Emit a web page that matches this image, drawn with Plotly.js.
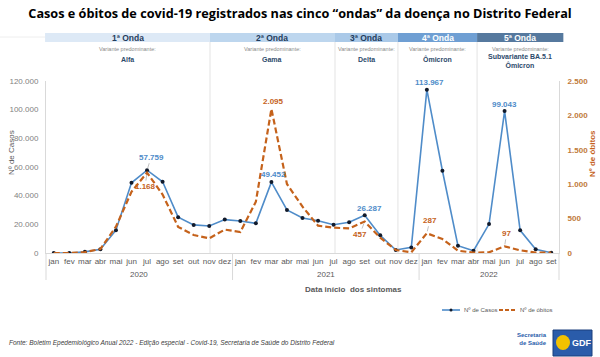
<!DOCTYPE html>
<html>
<head>
<meta charset="utf-8">
<script src="https://cdn.plot.ly/plotly-3.0.1.min.js"></script>
<style>html,body{margin:0;padding:0;background:#fff;}#chart{width:600px;height:357px;}</style>
</head>
<body>
<div id="chart"></div>
<script>
// ---- data ----
const months = ["jan","fev","mar","abr","mai","jun","jul","ago","set","out","nov","dez",
                "jan","fev","mar","abr","mai","jun","jul","ago","set","out","nov","dez",
                "jan","fev","mar","abr","mai","jun","jul","ago","set"];
const years = ["2020","2021","2022"];
const yearStart = [0, 12, 24];
const yearEnd = [11, 23, 32];
const cases = [0, 0, 800, 2600, 15900, 49000, 57759, 49700, 25000, 19600, 18800, 23300,
               22300, 20700, 49452, 30000, 24400, 22500, 19700, 21400, 26287, 12300, 2100, 3900,
               113967, 57400, 5100, 1600, 20200, 99043, 15800, 2600, 200];
const deaths = [0, 0, 12, 58, 382, 890, 1168, 850, 380, 262, 213, 340,
                305, 746, 2095, 1003, 673, 397, 368, 357, 457, 222, 44, 10,
                287, 203, 34, 5, 10, 97, 39, 7, 5];
const seriesNames = ["Nº de Casos", "Nº de óbitos"];
const waveNames = ["1ª Onda","2ª Onda","3ª Onda","4ª Onda","5ª Onda"];
const waveVariants = ["Alfa","Gama","Delta","Ômicron","Subvariante BA.5.1<br>Ômicron"];
const caseTicks = [0, 20000, 40000, 60000, 80000, 100000, 120000];
const deathTicks = [0, 500, 1000, 1500, 2000, 2500];
// labelled peaks (month index)
const caseLabelIdx = [6, 14, 20, 24, 29];
const deathLabelIdx = [6, 14, 20, 24, 29];

// ---- layout helpers (pixel geometry) ----
const L = 46, R = 559, T = 81, B = 253;
const px = p => (p - L) / (R - L);
const py = p => (B - p) / (B - T);
const ix = i => px(L + (i + 0.5) * (R - L) / months.length);
const idx = months.map((m, i) => i);

const blue = "#4f8cc9", orange = "#c5621b", gray = "#595959";
const waveEdges = [-0.56, 10.05, 18.09, 22.14, 27.23, 32.78];
const waveFill = ["#dde9f6","#bdd6ee","#aac9e8","#6f9fd3","#56799e"];
const waveText = ["#1f3b5c","#1f3b5c","#1f3b5c","#ffffff","#ffffff"];

const traces = [
  {x: idx, y: cases, name: seriesNames[0], type: "scatter", mode: "lines+markers",
   line: {color: blue, width: 1.6}, marker: {color: "#111a2b", size: 4}, yaxis: "y", hoverinfo: "skip"},
  {x: idx, y: deaths, name: seriesNames[1], type: "scatter", mode: "lines",
   line: {color: orange, width: 2.2, dash: "6px,3px"}, yaxis: "y2", hoverinfo: "skip"}
];

const shapes = [], annotations = [];
const note = (o) => annotations.push(Object.assign({xref: "paper", yref: "paper", showarrow: false,
                                                   xanchor: "center", yanchor: "middle"}, o));

// wave header bands + separators
waveNames.forEach((w, k) => {
  const x0 = ix(waveEdges[k]), x1 = ix(waveEdges[k + 1]);
  shapes.push({type: "rect", xref: "paper", yref: "paper", x0, x1, y0: py(42), y1: py(33),
               fillcolor: waveFill[k], line: {width: 0}, layer: "below"});
  note({x: (x0 + x1) / 2, y: py(37.5), text: w,
        font: {size: 8.5, color: waveText[k], family: "Liberation Sans", weight: "bold"}});
  note({x: (x0 + x1) / 2, y: py(48.5), text: "Variante predominante:",
        font: {size: 5.5, color: "#8a8a8a", family: "Liberation Sans"}});
  note({x: (x0 + x1) / 2, y: py(k === 4 ? 60.5 : 59), text: waveVariants[k],
        font: {size: 7, color: "#2d4a6b", family: "Liberation Sans", weight: "bold"}});
  if (k > 0) {
    shapes.push({type: "line", xref: "paper", yref: "paper", x0, x1: x0, y0: 0, y1: py(42),
                 line: {color: "#e3e3e3", width: 1}, layer: "below"});
  }
});
shapes.push({type: "line", xref: "paper", yref: "paper", x0: px(0), x1: px(45), y0: py(37), y1: py(37),
             line: {color: "#eeeeee", width: 1}});

// year separators and labels
years.forEach((y, k) => {
  note({x: (ix(yearStart[k]) + ix(yearEnd[k])) / 2, y: py(274), text: y,
        font: {size: 8, color: gray, family: "Liberation Sans"}});
  shapes.push({type: "line", xref: "paper", yref: "paper", x0: ix(yearStart[k] - 0.5), x1: ix(yearStart[k] - 0.5),
               y0: py(280), y1: 0, line: {color: "#d9d9d9", width: 1}});
});
shapes.push({type: "line", xref: "paper", yref: "paper", x0: 1, x1: 1, y0: py(280), y1: 0, line: {color: "#d9d9d9", width: 1}});

// data labels
const fmt = v => v.toLocaleString("de-DE");
const caseOff = {6: [4, -13, true], 14: [2, -8, false], 20: [5, -7, false], 24: [3, -7, false], 29: [0, -7, false]};
const deathOff = {6: [-2, 14, true], 14: [2, -7, false], 20: [-5, 13, true], 24: [3, -13, true], 29: [2, -13, true]};
caseLabelIdx.forEach(i => {
  const [dx, dy, arrow] = caseOff[i];
  annotations.push(arrow ?
    {x: i, y: cases[i], xref: "x", yref: "y", text: fmt(cases[i]), showarrow: true, arrowhead: 0, arrowwidth: 0.7,
     arrowcolor: "#a6a6a6", ax: dx, ay: dy, standoff: 2, font: {size: 8, color: blue, family: "Liberation Sans", weight: "bold"}} :
    {x: i, y: cases[i], xref: "x", yref: "y", text: fmt(cases[i]), showarrow: false, xshift: dx, yshift: -dy,
     xanchor: "center", yanchor: "middle",
     font: {size: 8, color: blue, family: "Liberation Sans", weight: "bold"}});
});
deathLabelIdx.forEach(i => {
  const [dx, dy, arrow] = deathOff[i];
  annotations.push(arrow ?
    {x: i, y: deaths[i], xref: "x", yref: "y2", text: fmt(deaths[i]), showarrow: true, arrowhead: 0, arrowwidth: 0.7,
     arrowcolor: "#a6a6a6", ax: dx, ay: dy, standoff: 2, font: {size: 8, color: orange, family: "Liberation Sans", weight: "bold"}} :
    {x: i, y: deaths[i], xref: "x", yref: "y2", text: fmt(deaths[i]), showarrow: false, xshift: dx, yshift: -dy,
     xanchor: "center", yanchor: "middle",
     font: {size: 8, color: orange, family: "Liberation Sans", weight: "bold"}});
});

// axis titles
note({x: px(11), y: py(153), text: "Nº de Casos", textangle: -90,
      font: {size: 8, color: gray, family: "Liberation Sans"}});
note({x: px(592), y: py(154), text: "Nº de óbitos", textangle: -90,
      font: {size: 8, color: orange, family: "Liberation Sans", weight: "bold"}});
note({x: px(303), xanchor: "left", y: py(289), text: "Data início  dos sintomas",
      font: {size: 8, color: gray, family: "Liberation Sans", weight: "bold"}});

// custom legend
shapes.push({type: "line", xref: "paper", yref: "paper", x0: px(442), x1: px(460), y0: py(310), y1: py(310), line: {color: blue, width: 1.6}});
shapes.push({type: "circle", xref: "paper", yref: "paper", x0: px(449.5), x1: px(452.5), y0: py(311.5), y1: py(308.5),
             fillcolor: "#111a2b", line: {width: 0}});
shapes.push({type: "line", xref: "paper", yref: "paper", x0: px(499), x1: px(516), y0: py(310), y1: py(310),
             line: {color: orange, width: 2, dash: "4px,2px"}});
note({x: px(462), xanchor: "left", y: py(310), text: seriesNames[0],
      font: {size: 6, color: gray, family: "Liberation Sans"}});
note({x: px(518), xanchor: "left", y: py(310), text: seriesNames[1],
      font: {size: 6, color: gray, family: "Liberation Sans"}});

// footer
note({x: px(7), xanchor: "left", y: py(343),
  text: "Fonte: Boletim Epedemiológico Anual 2022 - Edição especial - Covid-19, Secretaria de Saúde do Distrito Federal",
  font: {size: 6.5, color: "#404040", family: "Liberation Sans", style: "italic"}});

// logos
note({x: px(549), xanchor: "right", y: py(339), text: "Secretaria<br>de Saúde", align: "right",
  font: {size: 6, color: "#2a5caa", family: "Liberation Sans", weight: "bold"}});
shapes.push({type: "rect", xref: "paper", yref: "paper", x0: px(553), x1: px(592), y0: py(356), y1: py(330),
             fillcolor: "#2a5caa", line: {color: "#1b3f7c", width: 1}});
shapes.push({type: "circle", xref: "paper", yref: "paper", x0: px(556), x1: px(570), y0: py(350), y1: py(335),
             fillcolor: "#f3c200", line: {width: 0}});
note({x: px(581.5), y: py(343), text: "GDF",
  font: {size: 9, color: "#ffffff", family: "Liberation Sans", weight: "bold"}});

const layout = {
  width: 600, height: 357,
  margin: {l: L, r: 600 - R, t: T, b: 357 - B, pad: 0},
  paper_bgcolor: "#ffffff", plot_bgcolor: "#ffffff",
  separators: ",.",
  showlegend: false,
  font: {family: "Liberation Sans", color: gray},
  title: {text: "Casos e óbitos de covid-19 registrados nas cinco “ondas” da doença no Distrito Federal",
          x: 0.5, xanchor: "center", y: 1 - 14 / 357, yanchor: "middle", yref: "container",
          font: {family: "Open Sans", size: 12.7, color: "#000000", weight: "bold"}},
  xaxis: {range: [-0.5, 32.5], tickvals: idx, ticktext: months, tickangle: 0, showgrid: false, zeroline: false,
          showline: true, linecolor: "#d9d9d9", ticks: "", tickfont: {size: 8, color: gray}, fixedrange: true},
  yaxis: {range: [0, 120000], tickvals: caseTicks, tickformat: ",d", showgrid: false, zeroline: false,
          showline: true, linecolor: "#d9d9d9", ticks: "", ticklabelstandoff: 5, tickfont: {size: 8, color: "#7f7f7f"}, fixedrange: true},
  yaxis2: {range: [0, 2500], tickvals: deathTicks, tickformat: ",d", overlaying: "y", side: "right", showgrid: false, zeroline: false,
           showline: true, linecolor: "#d9d9d9", ticks: "", ticklabelstandoff: 6,
           tickfont: {size: 8, color: "#c07a3a", weight: "bold"}, fixedrange: true},
  shapes, annotations
};

Plotly.newPlot("chart", traces, layout, {displayModeBar: false, staticPlot: true});
</script>
</body>
</html>
